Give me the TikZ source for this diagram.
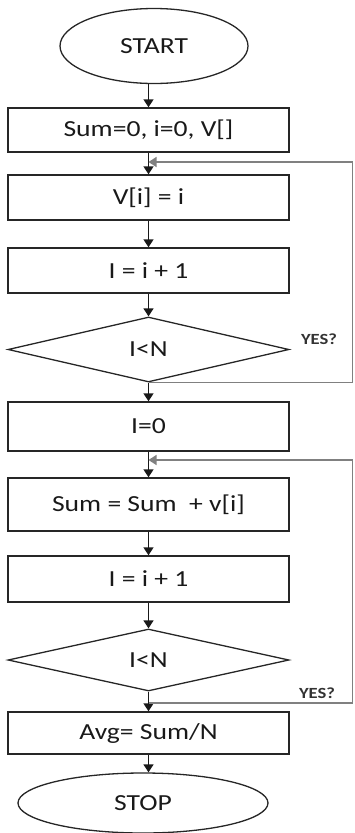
\documentclass[tikz,border=0pt]{standalone}
\usepackage{fontspec}
\setmainfont{Carlito}[FakeStretch=1.2]
\usetikzlibrary{shapes.geometric,arrows.meta}
\begin{document}
\begin{tikzpicture}[x=1pt,y=-1pt,
  txt/.style={font=\fontsize{23}{26}\selectfont, text=black!90},
  box/.style={txt, draw=black!85, line width=1.4pt, rectangle, minimum width=281pt, inner sep=0pt},
  term/.style={txt, draw=black!85, line width=1.3pt, ellipse, inner sep=0pt},
  dec/.style={txt, draw=black!85, line width=1.3pt, diamond, inner sep=0pt, minimum width=281pt},
  arr/.style={draw=black!90, line width=1.4pt, -{Triangle[width=10pt,length=8pt]}},
  loopline/.style={draw=gray, line width=1.3pt},
  looparr/.style={loopline, -{Triangle[width=10pt,length=8pt]}},
  yes/.style={font=\fontsize{15.5}{17}\selectfont\bfseries, text=black!80}]
\useasboundingbox (0,0) rectangle (354,833);
\node[term, minimum width=188pt, minimum height=75pt] (start) at (154,46) {START};
\node[box, minimum height=44pt] (b1) at (148.5,130) {Sum=0, i=0, V[]};
\node[box, minimum height=45pt] (b2) at (148.5,197.5) {V[i] = i};
\node[box, minimum height=45pt] (b3) at (148.5,270.5) {I = i + 1};
\node[dec, minimum height=65pt] (d1) at (148.5,349.5) {I<N};
\node[box, minimum height=49pt] (b4) at (148.5,426.5) {I=0};
\node[box, minimum height=53pt] (b5) at (148.5,504.5) {Sum = Sum\ \ + v[i]};
\node[box, minimum height=46pt] (b6) at (148.5,579) {I = i + 1};
\node[dec, minimum height=62pt] (d2) at (148.5,660) {I<N};
\node[box, minimum height=42pt] (b7) at (148.5,733) {Avg= Sum/N};
\node[term, minimum width=250pt, minimum height=60pt] (stop) at (143,803) {STOP};
\node[yes] (y1) at (319,339) {YES?};
\node[yes] (y2) at (317,693) {YES?};
% main flow
\draw[arr] (b1.north |- start.south) -- (b1.north);
\draw[arr] (b1) -- (b2);
\draw[arr] (b2) -- (b3);
\draw[arr] (b3) -- (d1);
\draw[arr] (d1) -- (b4);
\draw[arr] (b4) -- (b5);
\draw[arr] (b5) -- (b6);
\draw[arr] (b6) -- (d2);
\draw[arr] (d2) -- (b7);
\draw[arr] (b7.south) -- (b7.south |- stop.north);
% loop 1
\coordinate (m1) at (148.5,162);
\coordinate (r1) at (352.5,162);
\draw[looparr] (d1.south) -| (r1) -- (m1);
% loop 2
\coordinate (s2) at (148.5,703);
\coordinate (m2) at (148.5,460);
\coordinate (r2) at (352.5,460);
\draw[looparr] (s2) -| (r2) -- (m2);
\end{tikzpicture}
\end{document}
